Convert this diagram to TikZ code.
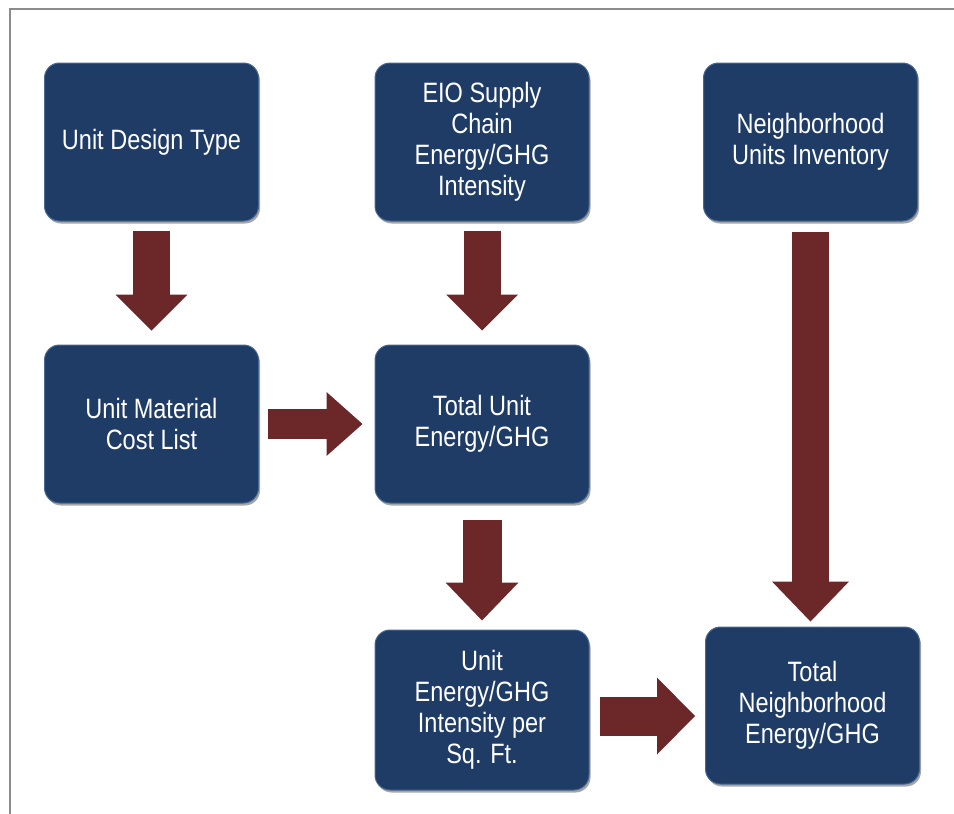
\documentclass[tikz,border=0pt]{standalone}
\usepackage{fontspec}
\setmainfont{Liberation Sans}[FakeStretch=0.84]
\usetikzlibrary{arrows.meta,shadows,calc}
\definecolor{boxblue}{RGB}{31,60,102}
\definecolor{boxedge}{RGB}{70,104,146}
\definecolor{arrowred}{RGB}{108,40,40}
\definecolor{framegray}{RGB}{140,140,140}
\tikzset{
  box/.style={rectangle, rounded corners=15pt, fill=boxblue, draw=boxedge, line width=1pt,
    minimum width=214pt, minimum height=158pt, align=center, text=white,
    font=\fontsize{28}{31}\selectfont, inner sep=0pt,
    drop shadow={shadow xshift=1.5pt, shadow yshift=-2.5pt, fill=black, opacity=0.35}},
  blockarrow/.style n args={3}{draw=arrowred, line width=#1,
    -{Triangle[width=#2,length=#3,line width=0pt]}}
}
\begin{document}
\begin{tikzpicture}[x=1pt,y=-1pt]
\useasboundingbox (0,0) rectangle (954,814);
\draw[framegray, line width=2pt] (10,814) -- (10,9) -- (954,9);

\node[box] (udt) at (151.5,142) {Unit Design Type};
\node[box] (eio) at (482,142) {EIO Supply\\Chain\\Energy/GHG\\Intensity};
\node[box] (nui) at (810.5,142) {Neighborhood\\Units Inventory};
\node[box] (umc) at (151.5,424) {Unit Material\\Cost List};
\node[box] (tue) at (482,424) {Total Unit\\Energy/GHG};
\node[box, minimum height=160pt] (uei) at (482,710) {Unit\\Energy/GHG\\Intensity per\\Sq. Ft.};
\node[box, minimum height=157pt] (tne) at (812.5,705.5) {Total\\Neighborhood\\Energy/GHG};

\draw[blockarrow={37pt}{72pt}{36pt}, shorten <=9pt, shorten >=14pt] (udt.south) -- (umc.north);
\draw[blockarrow={37pt}{72pt}{36pt}, shorten <=9pt, shorten >=14pt] (eio.south) -- (tue.north);
\draw[blockarrow={30pt}{64pt}{36pt}, shorten <=9pt, shorten >=12pt] (umc.east) -- (tue.west);
\draw[blockarrow={39pt}{73pt}{38pt}, shorten <=16pt, shorten >=9pt] (tue.south) -- (uei.north);
\draw[blockarrow={37pt}{77pt}{40pt}, shorten <=10pt, shorten >=5pt] (nui.south) -- (nui.south |- tne.north);
\draw[blockarrow={39pt}{77pt}{38pt}, shorten <=10pt, shorten >=10pt] ([yshift=-6pt]uei.east) -- ([yshift=-6pt]uei.east -| tne.west);
\end{tikzpicture}
\end{document}
